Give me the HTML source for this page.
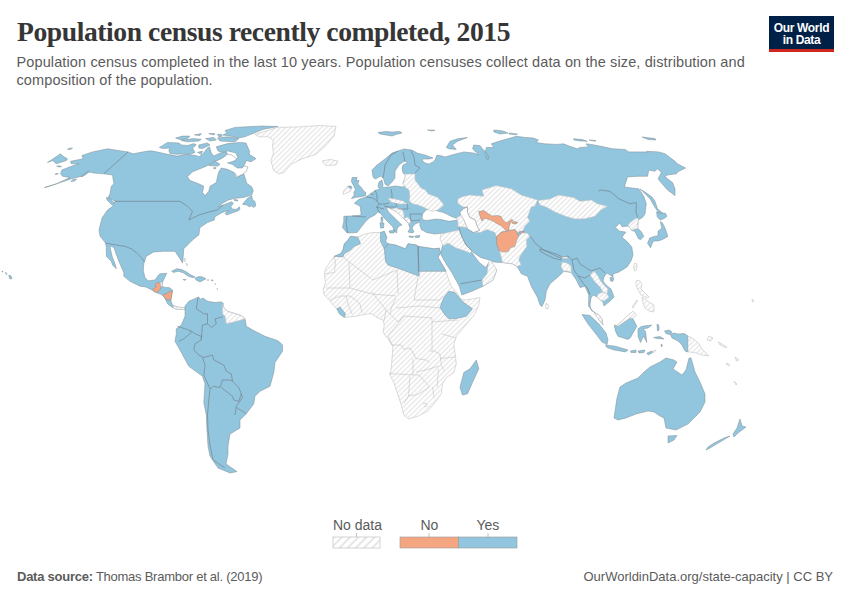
<!DOCTYPE html>
<html><head><meta charset="utf-8">
<style>
html,body{margin:0;padding:0;background:#fff;}
body{width:850px;height:600px;position:relative;overflow:hidden;font-family:"Liberation Sans",sans-serif;}
.t{position:absolute;white-space:nowrap;}
#title{left:17px;top:15.5px;font-family:"Liberation Serif",serif;font-weight:bold;font-size:27.6px;letter-spacing:-0.42px;color:#363636;}
#sub1,#sub2{left:16.5px;font-size:14.5px;letter-spacing:0.12px;color:#5b5b5b;}
#sub1{top:53.5px}
#sub2{top:71.5px}
#logo{position:absolute;left:769px;top:16px;width:65px;height:36px;background:#002147;}
#logo .bar{position:absolute;left:0;bottom:0;width:100%;height:3px;background:#ce261e;}
#logo .l{position:absolute;left:0;width:100%;text-align:center;color:#fff;font-size:12px;font-weight:bold;letter-spacing:-0.35px;}
#foot1{left:17px;top:569px;font-size:13px;letter-spacing:-0.25px;color:#5b5b5b;}
#foot2{right:17px;top:569px;font-size:13px;color:#5b5b5b;}
.lg{position:absolute;font-size:14px;color:#5b5b5b;}
svg{position:absolute;left:0;top:0;}
</style></head><body>
<div id="title" class="t">Population census recently completed, 2015</div>
<div id="sub1" class="t">Population census completed in the last 10 years. Population censuses collect data on the size, distribution and</div>
<div id="sub2" class="t">composition of the population.</div>
<div id="logo"><div class="l" style="top:5px">Our World</div><div class="l" style="top:17px">in Data</div><div class="bar"></div></div>

<svg width="850" height="600" viewBox="0 0 850 600">
<defs>
<pattern id="h" patternUnits="userSpaceOnUse" width="3.6" height="3.6" patternTransform="rotate(45)">
<rect width="3.6" height="3.6" fill="#ffffff"/>
<rect x="0" y="0" width="1.25" height="3.6" fill="#e6e6e6"/>
</pattern>
<pattern id="hl" patternUnits="userSpaceOnUse" width="5.8" height="5.8" patternTransform="rotate(45)">
<rect width="5.8" height="5.8" fill="#ffffff"/>
<rect x="0" y="0" width="2" height="5.8" fill="#e6e6e6"/>
</pattern>
</defs>
<g id="map" stroke-linejoin="round">
<path d="M44.4,187.5 L56.3,183.8 L70.0,177.5 L62.5,176.3 L60.6,173.8 L61.9,170.0 L71.3,166.3 L78.8,163.8 L71.3,163.8 L70.6,161.3 L80.0,159.4 L83.1,158.8 L81.9,155.6 L92.5,151.9 L107.5,148.8 L115.0,150.0 L128.1,151.9 L133.1,153.8 L146.3,151.3 L151.3,150.8 L156.3,151.8 L167.5,154.3 L177.5,156.1 L185.0,154.3 L196.3,155.5 L198.8,156.8 L202.5,154.3 L207.5,148.0 L209.4,146.8 L211.3,153.0 L213.8,156.1 L215.0,155.5 L220.0,153.0 L226.3,151.8 L227.5,154.3 L222.5,158.0 L217.5,160.5 L226.0,165.0 L233.8,172.5 L236.3,177.5 L243.8,173.8 L245.8,180.0 L246.7,183.3 L251.7,186.7 L253.3,190.8 L251.7,195.0 L243.3,197.5 L235.0,198.3 L228.3,200.0 L222.5,203.3 L218.3,206.7 L223.3,205.0 L231.7,201.7 L233.3,203.3 L230.8,206.7 L232.5,209.2 L236.7,209.2 L239.2,206.7 L240.0,209.2 L238.3,210.8 L233.3,212.5 L226.7,215.0 L225.0,213.3 L229.2,210.8 L224.2,211.7 L220.8,213.3 L215.0,216.7 L214.2,220.0 L207.5,222.5 L200.0,227.5 L198.8,235.0 L192.5,240.0 L183.8,248.8 L183.1,257.5 L182.5,263.1 L180.0,258.8 L175.0,251.3 L163.8,251.3 L153.8,251.9 L146.3,256.3 L143.8,263.8 L143.3,270.3 L145.0,277.8 L148.3,280.8 L155.0,280.0 L158.3,275.3 L160.0,273.7 L166.7,273.3 L164.2,278.7 L162.5,282.0 L162.0,286.2 L165.0,287.4 L170.0,287.8 L172.5,290.3 L171.7,295.3 L170.8,300.3 L172.5,305.3 L176.0,306.5 L180.0,307.5 L185.0,307.5 L185.0,309.5 L180.0,309.5 L176.0,309.0 L173.3,307.8 L171.7,307.0 L167.5,303.7 L165.8,300.3 L164.2,297.0 L161.7,294.5 L156.7,292.8 L152.5,290.3 L145.8,287.0 L140.0,286.2 L130.0,281.3 L123.8,276.3 L123.8,272.5 L118.8,261.3 L113.8,247.5 L111.3,246.3 L110.0,247.5 L112.5,257.5 L115.0,263.8 L116.3,268.8 L112.5,265.0 L111.3,261.3 L106.3,256.3 L106.3,247.5 L105.6,243.1 L100.0,236.0 L99.0,230.0 L102.0,218.0 L107.5,210.0 L112.5,206.3 L115.0,201.3 L108.1,197.5 L110.0,193.8 L111.3,186.3 L113.8,183.8 L112.5,175.0 L103.8,173.8 L93.8,173.1 L88.8,171.9 L81.3,176.3 L71.3,178.8 L58.8,183.1 L47.5,186.9 Z" fill="#92c5de" stroke="#7f8c92" stroke-width="0.5"/>
<path d="M187.5,176.8 L192.5,171.8 L205.0,166.8 L210.0,164.3 L215.0,161.1 L217.5,160.5 L222.5,158.0 L227.5,154.3 L232.0,155.0 L238.0,160.0 L240.0,165.0 L248.0,167.0 L246.0,171.8 L242.5,174.3 L237.5,176.8 L235.0,173.0 L227.5,169.3 L221.3,168.0 L218.8,171.8 L217.5,176.8 L216.3,182.5 L210.0,186.3 L208.8,191.3 L205.0,195.6 L202.5,192.5 L203.8,186.3 L198.8,183.8 L190.0,180.5 Z" fill="#fff" stroke="#7f8c92" stroke-width="0.5"/>
<path d="M208.8,165.5 L215.0,161.1 L220.0,164.3 L217.5,166.1 Z" fill="#92c5de" stroke="#7f8c92" stroke-width="0.5"/>
<path d="M213.0,168.0 L216.0,167.5 L215.5,169.0 Z" fill="#92c5de" stroke="#7f8c92" stroke-width="0.5"/>
<path d="M242.5,204.2 L247.5,198.3 L251.7,195.8 L252.5,199.2 L255.0,201.7 L255.8,205.8 L253.3,207.5 L251.7,205.8 L249.2,206.7 L246.7,205.0 Z" fill="#92c5de" stroke="#7f8c92" stroke-width="0.5"/>
<path d="M234.0,199.5 L238.0,200.0 L237.5,201.0 L234.5,200.5 Z" fill="#92c5de" stroke="#7f8c92" stroke-width="0.5"/>
<path d="M171.7,271.2 L176.7,268.7 L181.7,269.5 L186.7,272.0 L190.0,274.5 L195.0,276.9 L193.0,277.8 L188.3,276.2 L183.3,272.8 L178.3,271.2 L173.3,272.4 Z" fill="#92c5de" stroke="#7f8c92" stroke-width="0.5"/>
<path d="M195.0,278.1 L199.0,276.5 L202.5,276.9 L206.0,278.8 L200.0,281.9 L196.0,280.0 Z" fill="#92c5de" stroke="#7f8c92" stroke-width="0.5"/>
<path d="M183.0,279.5 L186.0,279.5 L185.0,280.5 Z" fill="#92c5de" stroke="#7f8c92" stroke-width="0.5"/>
<path d="M211.0,280.0 L213.0,280.0 L212.5,281.0 Z" fill="#92c5de" stroke="#7f8c92" stroke-width="0.5"/>
<path d="M184.0,258.0 L185.5,259.0 L185.0,262.0 L184.0,261.0 Z" fill="url(#h)" stroke="#c2c2c2" stroke-width="0.6"/>
<path d="M186.0,263.0 L187.5,264.0 L187.0,266.0 Z" fill="url(#h)" stroke="#c2c2c2" stroke-width="0.6"/>
<path d="M207.0,279.5 L209.0,279.5 L209.0,280.5 L207.0,280.5 Z" fill="url(#h)" stroke="#c2c2c2" stroke-width="0.6"/>
<path d="M215.0,283.0 L216.0,284.0 L215.5,285.0 Z" fill="url(#h)" stroke="#c2c2c2" stroke-width="0.6"/>
<path d="M217.0,288.0 L218.0,289.0 L217.0,290.0 Z" fill="url(#h)" stroke="#c2c2c2" stroke-width="0.6"/>
<path d="M152.5,289.5 L155.8,287.0 L155.0,284.5 L156.7,282.8 L160.0,282.8 L161.2,287.0 L160.0,289.5 L157.5,292.0 L154.2,292.0 Z" fill="#f4a582" stroke="#7f8c92" stroke-width="0.5"/>
<path d="M162.5,295.3 L167.5,292.8 L172.5,290.3 L171.7,295.3 L170.8,300.3 L166.7,299.5 L164.2,297.0 Z" fill="#f4a582" stroke="#7f8c92" stroke-width="0.5"/>
<path d="M173.3,306.0 L176.0,306.5 L180.0,307.5 L185.0,307.5 L185.0,309.5 L180.0,309.5 L176.0,309.0 L173.3,307.8 Z" fill="url(#h)" stroke="#c2c2c2" stroke-width="0.6"/>
<path d="M160.0,282.8 L162.0,282.0 L162.0,286.2 L161.2,287.0 Z" fill="url(#h)" stroke="#c2c2c2" stroke-width="0.6"/>
<path d="M128.1,151.9 L103.8,173.8" fill="none" stroke="#6e7b82" stroke-width="0.6"/>
<path d="M115.0,201.3 L180.0,201.3 L187.5,206.3 L192.5,211.3 L188.8,220.0 L198.8,215.0 L210.0,211.7 L217.5,210.0 L220.8,206.7 L223.3,205.0" fill="none" stroke="#6e7b82" stroke-width="0.6"/>
<path d="M105.6,243.1 L112.5,244.4 L125.0,246.3 L131.3,248.8 L136.3,252.5 L141.3,257.5 L144.4,261.9" fill="none" stroke="#6e7b82" stroke-width="0.6"/>
<path d="M254.8,134.3 L263.5,131.8 L277.3,127.4 L301.0,126.8 L320.0,125.5 L336.0,126.5 L334.0,136.0 L326.0,145.5 L316.0,154.3 L301.0,159.3 L291.0,164.3 L283.5,173.0 L278.5,173.6 L273.5,170.5 L271.0,160.5 L273.5,153.0 L272.3,145.5 L273.5,140.5 L268.5,136.8 L258.5,136.8 Z" fill="url(#h)" stroke="#c2c2c2" stroke-width="0.6"/>
<path d="M322.0,161.0 L330.0,159.5 L338.0,161.0 L336.0,165.0 L326.0,165.5 Z" fill="url(#h)" stroke="#c2c2c2" stroke-width="0.6"/>
<path d="M159.4,147.4 L167.5,142.4 L178.8,143.0 L181.3,144.9 L187.5,145.5 L193.8,143.6 L196.3,144.9 L192.5,148.0 L195.0,152.4 L190.0,154.3 L185.0,153.6 L177.5,154.3 L170.0,153.6 L168.8,150.5 L170.0,148.0 L162.5,148.6 Z" fill="#92c5de" stroke="#7f8c92" stroke-width="0.5"/>
<path d="M197.5,152.4 L202.5,151.1 L201.3,154.3 Z" fill="#92c5de" stroke="#7f8c92" stroke-width="0.5"/>
<path d="M198.8,144.9 L207.5,143.0 L210.0,144.9 L202.5,148.6 L198.8,148.0 Z" fill="#92c5de" stroke="#7f8c92" stroke-width="0.5"/>
<path d="M216.3,146.8 L227.5,143.6 L240.0,142.4 L246.0,143.0 L249.8,151.8 L249.1,154.3 L256.0,158.6 L251.0,161.8 L246.0,160.5 L244.8,164.3 L242.3,168.0 L237.3,168.0 L232.3,164.3 L227.5,163.0 L234.0,161.0 L238.0,158.0 L236.0,153.0 L228.0,151.0 L222.0,152.0 L218.0,151.0 Z" fill="#92c5de" stroke="#7f8c92" stroke-width="0.5"/>
<path d="M175.6,138.0 L182.5,136.1 L190.0,136.1 L187.5,138.6 L181.3,139.9 Z" fill="#92c5de" stroke="#7f8c92" stroke-width="0.5"/>
<path d="M181.3,140.5 L192.5,138.6 L201.3,139.3 L198.8,141.1 L187.5,141.8 Z" fill="#92c5de" stroke="#7f8c92" stroke-width="0.5"/>
<path d="M194.4,134.9 L201.3,133.6 L200.0,135.5 Z" fill="#92c5de" stroke="#7f8c92" stroke-width="0.5"/>
<path d="M208.8,133.6 L215.0,133.6 L213.8,134.9 Z" fill="#92c5de" stroke="#7f8c92" stroke-width="0.5"/>
<path d="M205.6,138.6 L213.8,137.4 L216.3,139.9 L210.0,141.1 Z" fill="#92c5de" stroke="#7f8c92" stroke-width="0.5"/>
<path d="M217.5,134.3 L221.3,134.3 L222.5,136.1 L218.8,136.8 Z" fill="#92c5de" stroke="#7f8c92" stroke-width="0.5"/>
<path d="M217.5,138.0 L227.5,136.8 L238.8,138.6 L235.0,141.8 L220.0,141.1 Z" fill="#92c5de" stroke="#7f8c92" stroke-width="0.5"/>
<path d="M225.0,130.5 L235.0,127.4 L246.0,126.8 L262.0,126.0 L278.0,126.5 L263.5,129.3 L251.0,134.3 L244.8,136.8 L238.5,138.0 L230.0,136.0 L223.0,135.0 L226.9,133.0 Z" fill="#92c5de" stroke="#7f8c92" stroke-width="0.5"/>
<path d="M106.3,197.5 L110.0,198.5 L114.0,203.0 L112.0,205.0 L107.0,200.0 Z" fill="#92c5de" stroke="#7f8c92" stroke-width="0.5"/>
<path d="M47.5,162.5 L60.6,153.8 L63.1,156.3 L67.5,158.8 L66.3,160.6 L56.3,163.8 L52.5,160.6 Z" fill="#92c5de" stroke="#7f8c92" stroke-width="0.5"/>
<path d="M67.5,149.3 L70.0,148.0 L72.5,148.3 L70.0,149.6 Z" fill="#92c5de" stroke="#7f8c92" stroke-width="0.5"/>
<path d="M56.7,166.2 L59.0,165.8 L61.7,166.6 L59.0,167.0 Z" fill="#92c5de" stroke="#7f8c92" stroke-width="0.5"/>
<path d="M55.0,174.2 L57.0,173.3 L58.3,173.8 L56.0,174.6 Z" fill="#92c5de" stroke="#7f8c92" stroke-width="0.5"/>
<path d="M70.8,181.5 L73.0,179.5 L76.7,179.0 L74.5,181.0 Z" fill="#92c5de" stroke="#7f8c92" stroke-width="0.5"/>
<path d="M81.0,176.2 L84.0,174.0 L88.5,171.0 L89.2,171.5 L86.0,174.5 L82.0,176.8 Z" fill="#92c5de" stroke="#7f8c92" stroke-width="0.5"/>
<path d="M9.0,275.0 L11.0,276.0 L12.0,278.5 L10.0,279.0 L9.0,277.0 Z" fill="#92c5de" stroke="#7f8c92" stroke-width="0.5"/>
<path d="M2.0,271.0 L3.0,271.5 L3.0,272.0 L2.0,272.0 Z" fill="#92c5de" stroke="#7f8c92" stroke-width="0.5"/>
<path d="M5.0,272.5 L7.0,273.5 L6.5,274.5 Z" fill="#92c5de" stroke="#7f8c92" stroke-width="0.5"/>
<path d="M185.0,306.3 L188.8,301.3 L198.8,296.9 L200.0,299.4 L203.1,298.1 L207.5,301.3 L215.0,302.5 L221.3,301.9 L223.1,303.1 L223.8,307.5 L227.5,311.3 L231.3,312.5 L237.5,314.4 L242.5,316.3 L245.0,318.8 L246.3,326.3 L255.0,331.3 L265.0,336.3 L276.0,340.0 L278.8,341.3 L282.5,345.0 L282.5,351.3 L275.0,362.5 L273.8,372.5 L270.0,386.3 L260.0,391.3 L255.0,396.3 L253.8,403.8 L246.3,413.8 L240.0,420.0 L240.0,428.0 L230.0,434.0 L228.0,446.0 L228.0,454.0 L226.0,464.0 L237.0,471.6 L230.0,473.0 L218.0,468.0 L210.0,456.0 L208.0,446.0 L207.0,430.0 L206.3,415.0 L203.8,402.5 L205.0,383.8 L202.5,376.3 L188.8,366.3 L180.0,350.0 L175.0,341.3 L176.3,333.8 L176.3,328.8 L181.3,325.0 L185.0,316.3 Z" fill="#92c5de" stroke="#7f8c92" stroke-width="0.5"/>
<path d="M223.1,303.1 L223.8,307.5 L227.5,311.3 L231.3,312.5 L237.5,314.4 L242.5,316.3 L245.0,318.8 L241.3,320.0 L233.8,321.9 L226.3,323.8 L225.0,316.3 L222.5,313.8 L222.5,306.0 Z" fill="url(#h)" stroke="#c2c2c2" stroke-width="0.6"/>
<path d="M196.3,308.8 L203.8,313.8 L207.5,313.8 L207.5,323.8 L211.3,327.5 L216.3,323.8 L215.0,318.8 L222.5,316.9" fill="none" stroke="#6e7b82" stroke-width="0.6"/>
<path d="M198.0,297.5 L196.3,308.8" fill="none" stroke="#6e7b82" stroke-width="0.6"/>
<path d="M207.5,323.8 L202.5,325.0 L201.3,338.8" fill="none" stroke="#6e7b82" stroke-width="0.6"/>
<path d="M177.5,326.3 L188.8,330.0 L191.3,332.5 L183.8,338.8 L178.8,341.3" fill="none" stroke="#6e7b82" stroke-width="0.6"/>
<path d="M190.0,330.0 L195.0,333.8 L201.3,336.3 L201.3,340.0 L195.0,343.8 L193.8,350.0 L198.8,355.0 L203.8,357.5 L212.5,355.0 L213.8,360.0 L223.8,365.0 L226.3,371.3 L231.3,373.8 L232.5,381.3 L238.8,387.5 L241.3,393.8 L242.5,397.5 L236.3,406.3 L235.0,415.0" fill="none" stroke="#6e7b82" stroke-width="0.6"/>
<path d="M202.5,357.5 L205.0,365.0 L203.8,375.0 L210.0,388.8 L213.8,386.3 L220.0,387.5 L222.5,380.0 L230.0,380.0 L232.5,381.3" fill="none" stroke="#6e7b82" stroke-width="0.6"/>
<path d="M221.3,387.5 L232.5,396.3 L233.8,400.0 L238.8,401.3 L241.3,393.8" fill="none" stroke="#6e7b82" stroke-width="0.6"/>
<path d="M236.3,407.5 L246.3,413.8" fill="none" stroke="#6e7b82" stroke-width="0.6"/>
<path d="M210.0,388.8 L208.8,400.0 L207.5,415.0 L208.0,430.0 L210.0,445.0 L213.0,460.0 L225.0,468.0" fill="none" stroke="#6e7b82" stroke-width="0.6"/>
<path d="M334.3,256.3 L340.5,253.8 L343.0,250.0 L344.3,243.8 L348.0,240.0 L350.5,236.3 L355.5,236.9 L359.3,236.3 L365.5,233.8 L373.0,232.5 L380.5,232.5 L384.3,231.3 L386.8,237.5 L385.5,241.3 L388.0,243.8 L395.5,245.0 L405.5,248.8 L408.0,243.8 L416.8,245.0 L418.0,246.3 L425.5,247.5 L434.3,248.8 L439.3,248.1 L440.5,252.5 L438.0,257.5 L445.5,270.0 L448.8,280.0 L451.3,286.3 L458.8,295.0 L460.0,298.8 L465.0,300.0 L472.5,298.8 L480.0,297.5 L478.8,305.0 L475.0,313.8 L470.0,320.0 L462.5,328.8 L456.3,336.3 L453.8,345.0 L455.0,352.5 L456.3,363.8 L453.8,372.5 L446.3,377.5 L442.5,383.8 L441.3,393.8 L435.0,402.5 L427.5,411.3 L417.5,416.3 L408.8,418.8 L403.8,415.0 L401.3,405.0 L398.8,397.5 L393.8,382.5 L390.0,375.0 L391.3,367.5 L392.5,352.5 L393.0,345.0 L391.8,345.0 L388.0,338.8 L383.0,332.5 L384.3,325.0 L383.0,320.0 L376.8,317.5 L371.8,313.8 L368.0,313.8 L355.5,316.3 L344.3,317.5 L336.8,308.8 L333.0,305.0 L329.3,300.0 L324.3,295.0 L323.0,290.0 L325.5,282.5 L324.3,273.8 L325.5,268.8 L330.5,261.3 Z" fill="url(#h)" stroke="#c2c2c2" stroke-width="0.6"/>
<path d="M344.0,258.0 L373.0,280.0 L397.0,270.0" fill="none" stroke="#c2c2c2" stroke-width="0.6"/>
<path d="M397.0,270.0 L398.0,294.0" fill="none" stroke="#c2c2c2" stroke-width="0.6"/>
<path d="M418.0,277.0 L414.0,300.0" fill="none" stroke="#c2c2c2" stroke-width="0.6"/>
<path d="M334.3,256.3 L335.5,262.5 L334.3,272.5 L325.0,273.8" fill="none" stroke="#c2c2c2" stroke-width="0.6"/>
<path d="M349.0,263.0 L350.0,288.0" fill="none" stroke="#c2c2c2" stroke-width="0.6"/>
<path d="M326.0,288.0 L350.0,288.0 L372.0,294.0 L396.0,296.0" fill="none" stroke="#c2c2c2" stroke-width="0.6"/>
<path d="M330.0,300.0 L340.0,296.0 L350.0,296.0 L356.0,300.0 L360.0,304.0 L362.0,313.0" fill="none" stroke="#c2c2c2" stroke-width="0.6"/>
<path d="M346.0,296.0 L348.0,304.0 L352.0,314.0" fill="none" stroke="#c2c2c2" stroke-width="0.6"/>
<path d="M372.0,292.0 L386.0,310.0 L384.0,321.0" fill="none" stroke="#c2c2c2" stroke-width="0.6"/>
<path d="M396.0,298.0 L392.0,306.0 L390.0,314.0" fill="none" stroke="#c2c2c2" stroke-width="0.6"/>
<path d="M396.0,308.0 L420.0,306.0 L440.0,308.0" fill="none" stroke="#c2c2c2" stroke-width="0.6"/>
<path d="M414.0,300.0 L440.0,300.0 L443.0,296.0" fill="none" stroke="#c2c2c2" stroke-width="0.6"/>
<path d="M386.0,310.0 L398.0,322.0 L404.0,316.0 L432.0,318.0" fill="none" stroke="#c2c2c2" stroke-width="0.6"/>
<path d="M404.0,316.0 L396.0,326.0 L388.0,336.0 L392.0,345.0 L401.0,345.0 L404.0,349.5 L410.0,348.0 L413.0,352.5 L416.0,358.5 L426.5,360.0 L429.5,363.0" fill="none" stroke="#c2c2c2" stroke-width="0.6"/>
<path d="M432.0,318.0 L432.0,350.0" fill="none" stroke="#c2c2c2" stroke-width="0.6"/>
<path d="M432.0,322.0 L458.0,320.0" fill="none" stroke="#c2c2c2" stroke-width="0.6"/>
<path d="M442.0,334.0 L456.0,338.0" fill="none" stroke="#c2c2c2" stroke-width="0.6"/>
<path d="M429.5,351.0 L434.0,351.0 L440.0,354.0 L441.5,366.0 L444.5,370.5" fill="none" stroke="#c2c2c2" stroke-width="0.6"/>
<path d="M440.0,358.5 L455.0,357.0" fill="none" stroke="#c2c2c2" stroke-width="0.6"/>
<path d="M413.0,358.5 L413.0,375.0" fill="none" stroke="#c2c2c2" stroke-width="0.6"/>
<path d="M389.0,373.5 L414.5,375.0 L419.0,375.0 L429.5,387.0 L417.5,394.5 L408.5,396.0" fill="none" stroke="#c2c2c2" stroke-width="0.6"/>
<path d="M410.0,376.5 L408.5,396.0 L404.0,403.5" fill="none" stroke="#c2c2c2" stroke-width="0.6"/>
<path d="M416.0,372.0 L429.5,369.0 L438.5,366.0" fill="none" stroke="#c2c2c2" stroke-width="0.6"/>
<path d="M438.5,369.0 L437.0,387.0" fill="none" stroke="#c2c2c2" stroke-width="0.6"/>
<path d="M432.5,387.0 L434.0,397.5" fill="none" stroke="#c2c2c2" stroke-width="0.6"/>
<path d="M423.0,404.0 L426.0,403.0 L427.0,406.0 L424.0,407.0" fill="none" stroke="#c2c2c2" stroke-width="0.6"/>
<path d="M334.3,256.3 L340.5,253.8 L343.0,250.0 L344.3,243.8 L348.0,240.0 L350.5,236.3 L355.5,236.9 L358.0,237.5 L360.5,243.8 L354.3,246.3 L350.5,250.0 L344.3,253.8 L343.0,256.9 Z" fill="#92c5de" stroke="#7f8c92" stroke-width="0.5"/>
<path d="M380.5,232.5 L384.3,231.3 L386.8,237.5 L385.5,241.3 L388.0,243.8 L384.3,248.8 L380.5,241.3 Z" fill="#92c5de" stroke="#7f8c92" stroke-width="0.5"/>
<path d="M388.0,243.8 L395.5,245.0 L405.5,248.8 L408.0,243.8 L416.8,245.0 L418.0,246.3 L419.3,276.3 L399.3,268.8 L388.0,265.0 L385.5,261.3 L384.3,248.8 Z" fill="#92c5de" stroke="#7f8c92" stroke-width="0.5"/>
<path d="M418.0,246.3 L425.5,247.5 L434.3,248.8 L439.3,248.1 L440.5,252.5 L438.0,257.5 L445.5,270.0 L446.0,271.3 L418.5,271.3 Z" fill="#92c5de" stroke="#7f8c92" stroke-width="0.5"/>
<path d="M440.0,307.5 L443.8,297.5 L448.8,291.3 L455.0,292.5 L460.0,298.8 L463.8,302.5 L472.5,308.8 L466.3,316.3 L455.0,318.8 L448.8,318.8 L445.0,315.0 Z" fill="#92c5de" stroke="#7f8c92" stroke-width="0.5"/>
<path d="M336.8,308.8 L339.9,306.9 L345.5,313.8 L344.3,317.5 L339.3,313.8 Z" fill="#92c5de" stroke="#7f8c92" stroke-width="0.5"/>
<path d="M476.3,360.0 L478.8,368.8 L472.5,382.5 L467.5,393.8 L462.5,395.0 L460.0,387.5 L463.8,372.5 L470.0,368.8 Z" fill="#92c5de" stroke="#7f8c92" stroke-width="0.5"/>
<path d="M418.2,246.3 L418.8,271.3" fill="none" stroke="#6e7b82" stroke-width="0.6"/>
<path d="M342.5,227.5 L343.8,221.3 L343.8,216.3 L350.0,216.0 L352.0,216.0 L361.0,215.0 L361.0,213.0 L360.0,206.0 L354.3,203.2 L359.0,199.2 L364.8,197.4 L370.7,193.9 L374.2,191.0 L380.0,188.8 L378.0,187.0 L379.0,182.0 L382.0,180.0 L383.0,185.0 L382.5,187.5 L389.0,187.0 L395.0,186.0 L403.0,187.0 L405.0,186.0 L403.0,183.0 L405.0,178.0 L406.0,175.0 L403.0,173.0 L402.0,168.0 L403.0,165.0 L407.0,163.0 L406.0,161.0 L403.0,162.0 L399.0,165.0 L395.0,171.0 L395.0,178.0 L392.0,182.0 L388.0,186.0 L385.0,184.0 L384.0,180.0 L383.0,178.0 L381.0,176.0 L375.0,179.0 L373.0,177.0 L372.0,170.0 L377.0,165.0 L385.0,159.0 L392.0,153.0 L398.0,151.0 L404.0,149.0 L412.0,150.0 L417.0,153.0 L425.0,155.0 L433.0,158.0 L429.0,159.0 L423.0,159.0 L422.0,160.0 L425.0,163.0 L429.0,164.0 L433.0,162.0 L435.0,160.0 L437.0,155.0 L442.0,156.0 L445.0,157.0 L453.8,154.4 L463.8,151.9 L473.8,153.1 L478.8,155.0 L472.5,148.8 L473.8,145.0 L480.0,145.6 L482.5,148.8 L487.5,153.8 L488.8,158.8 L486.9,159.4 L485.0,153.8 L486.3,147.5 L493.8,147.5 L491.3,143.8 L498.8,141.3 L507.5,138.8 L516.3,136.3 L526.0,137.5 L533.5,138.1 L538.5,140.0 L536.0,142.5 L544.8,143.8 L557.3,144.4 L563.5,143.8 L569.8,146.3 L577.3,148.8 L579.8,147.5 L588.5,146.9 L586.0,143.8 L591.0,144.4 L601.0,146.3 L612.5,148.8 L625.0,149.4 L628.8,151.9 L645.0,151.9 L647.5,153.1 L646.3,151.3 L658.8,151.9 L665.0,153.8 L675.0,161.3 L677.5,163.8 L685.6,168.1 L678.8,171.3 L676.3,173.8 L667.5,175.0 L665.0,176.3 L667.5,178.8 L672.5,182.5 L675.0,188.8 L675.0,195.6 L667.5,190.0 L660.0,181.3 L658.1,178.8 L661.3,172.5 L657.5,168.8 L655.0,171.3 L648.8,170.0 L647.5,176.3 L637.5,176.3 L627.5,176.9 L624.4,186.9 L632.5,188.1 L638.8,188.8 L643.8,196.3 L646.3,203.8 L645.0,213.8 L643.0,217.0 L638.5,220.0 L637.8,223.0 L637.8,228.3 L641.5,232.0 L643.8,236.5 L640.8,239.5 L638.5,238.8 L636.3,234.3 L634.8,231.3 L631.8,230.5 L630.3,228.3 L628.0,226.0 L622.0,226.8 L619.8,223.0 L615.3,227.5 L619.8,231.3 L625.8,232.0 L622.0,237.3 L627.3,241.8 L631.8,247.0 L633.0,255.0 L631.0,261.0 L627.0,267.0 L619.0,272.0 L613.0,274.0 L613.0,277.0 L607.0,273.0 L604.0,277.0 L603.0,281.0 L606.0,285.0 L611.0,289.0 L614.0,297.0 L610.0,301.0 L604.0,306.0 L603.0,302.0 L597.0,297.0 L593.0,295.0 L591.0,298.0 L590.0,305.0 L591.0,310.0 L597.0,314.0 L598.0,313.8 L601.8,318.8 L603.0,325.0 L599.3,320.0 L594.3,312.5 L588.6,306.3 L588.8,295.0 L585.0,286.3 L580.0,287.5 L576.3,280.0 L571.3,272.5 L563.8,271.3 L558.8,276.3 L550.0,283.8 L546.3,291.3 L545.0,300.0 L542.0,306.5 L540.0,305.0 L537.5,297.5 L531.3,286.3 L527.5,276.3 L521.3,273.8 L520.0,271.3 L516.9,266.3 L512.5,263.8 L506.0,263.0 L502.5,262.5 L500.5,262.5 L494.0,262.0 L489.3,260.0 L480.5,257.5 L471.8,251.3 L471.8,252.5 L475.5,257.5 L479.3,262.5 L485.5,267.5 L489.3,262.0 L496.8,270.0 L493.0,280.0 L483.0,286.3 L471.8,291.3 L461.8,295.0 L459.3,286.3 L451.8,272.5 L446.8,265.0 L440.5,253.8 L441.8,248.8 L443.0,244.0 L444.0,239.0 L446.0,234.5 L441.5,233.3 L434.8,234.0 L426.5,232.5 L421.3,229.5 L419.8,225.0 L420.0,222.0 L415.0,224.0 L412.0,228.0 L414.0,232.0 L412.0,233.0 L408.0,232.0 L410.0,228.3 L408.3,223.3 L403.3,218.3 L396.7,211.7 L390.0,208.3 L386.0,207.0 L388.3,211.7 L395.0,218.3 L400.0,223.3 L402.0,225.0 L399.0,226.0 L397.0,229.0 L396.7,233.0 L394.0,231.0 L393.0,227.0 L386.0,220.0 L380.0,213.0 L378.0,211.7 L375.0,215.0 L370.0,217.5 L366.0,221.0 L362.0,226.0 L357.0,232.5 L347.0,233.0 Z" fill="#92c5de" stroke="#7f8c92" stroke-width="0.5"/>
<path d="M422.0,217.5 L422.8,213.8 L425.8,210.0 L431.0,208.5 L434.8,210.0 L439.3,211.5 L443.0,212.3 L447.5,214.5 L452.0,216.8 L456.5,218.3 L458.8,219.8 L455.0,220.5 L449.0,221.3 L442.3,219.8 L436.3,219.0 L431.0,219.8 L426.5,220.5 L422.8,219.8 Z" fill="#fff" stroke="#7f8c92" stroke-width="0.5"/>
<path d="M460.0,212.3 L463.8,208.5 L467.5,207.0 L467.5,212.3 L469.8,217.5 L475.0,219.8 L477.3,226.5 L479.5,230.3 L473.5,232.5 L467.5,228.8 L466.0,225.0 L463.8,219.8 L460.8,215.3 Z" fill="#fff" stroke="#7f8c92" stroke-width="0.5"/>
<path d="M352.0,177.6 L357.2,177.6 L356.0,180.5 L359.0,180.5 L357.8,184.0 L361.3,187.5 L363.7,191.0 L366.0,192.7 L365.4,195.7 L360.2,196.8 L355.5,197.4 L351.4,198.6 L354.3,195.0 L353.7,192.2 L355.5,189.8 L353.7,185.7 L351.4,181.7 Z" fill="#92c5de" stroke="#7f8c92" stroke-width="0.5"/>
<path d="M343.8,190.4 L348.0,186.3 L352.0,187.5 L350.2,191.6 L343.2,194.5 Z" fill="url(#h)" stroke="#c2c2c2" stroke-width="0.6"/>
<path d="M348.0,186.3 L351.0,186.0 L352.0,187.5 L350.0,188.7 Z" fill="#92c5de" stroke="#7f8c92" stroke-width="0.5"/>
<path d="M378.0,132.5 L386.0,131.5 L392.0,132.0 L400.0,131.5 L402.0,133.0 L396.0,134.5 L392.0,136.0 L386.0,135.0 L380.0,134.0 Z" fill="#92c5de" stroke="#7f8c92" stroke-width="0.5"/>
<path d="M427.5,130.0 L435.0,130.2 L432.0,131.0 Z" fill="#92c5de" stroke="#7f8c92" stroke-width="0.5"/>
<path d="M446.3,147.5 L450.0,141.3 L457.5,138.8 L467.5,137.5 L457.5,141.3 L452.5,145.0 L456.3,149.4 L448.8,148.8 Z" fill="#92c5de" stroke="#7f8c92" stroke-width="0.5"/>
<path d="M493.8,130.0 L503.0,131.0 L508.0,133.0 L500.0,134.0 L494.0,132.0 Z" fill="#92c5de" stroke="#7f8c92" stroke-width="0.5"/>
<path d="M509.0,133.0 L517.5,134.0 L516.0,134.8 L509.0,134.0 Z" fill="#92c5de" stroke="#7f8c92" stroke-width="0.5"/>
<path d="M573.5,138.8 L582.0,139.5 L587.3,141.3 L580.0,141.0 L574.0,140.0 Z" fill="#92c5de" stroke="#7f8c92" stroke-width="0.5"/>
<path d="M589.0,140.0 L596.0,140.5 L595.0,141.3 Z" fill="#92c5de" stroke="#7f8c92" stroke-width="0.5"/>
<path d="M642.0,137.0 L655.0,138.5 L656.0,140.0 L648.0,139.5 Z" fill="#92c5de" stroke="#7f8c92" stroke-width="0.5"/>
<path d="M640.0,189.0 L645.0,192.0 L652.0,197.0 L655.0,201.3 L657.5,208.8 L665.0,215.0 L659.0,213.0 L655.0,207.5 L650.0,198.8 L641.3,190.0 Z" fill="#92c5de" stroke="#7f8c92" stroke-width="0.5"/>
<path d="M647.5,243.3 L649.8,238.0 L654.0,236.5 L658.0,235.8 L658.0,231.3 L661.8,228.3 L660.3,221.5 L662.5,223.0 L665.0,228.0 L667.0,233.5 L667.8,236.5 L662.5,239.5 L658.0,241.0 L653.5,241.0 L652.0,244.0 L650.5,247.8 Z" fill="#92c5de" stroke="#7f8c92" stroke-width="0.5"/>
<path d="M657.3,217.0 L656.5,211.8 L660.0,213.0 L665.5,213.3 L667.0,216.3 L664.0,218.5 L660.3,220.0 Z" fill="#92c5de" stroke="#7f8c92" stroke-width="0.5"/>
<path d="M381.0,217.0 L383.0,217.5 L382.5,222.0 L381.0,221.0 Z" fill="#92c5de" stroke="#7f8c92" stroke-width="0.5"/>
<path d="M380.0,222.5 L384.0,223.0 L383.5,228.0 L380.5,228.0 Z" fill="#92c5de" stroke="#7f8c92" stroke-width="0.5"/>
<path d="M389.0,231.0 L395.0,230.0 L394.0,233.0 L390.0,233.0 Z" fill="#92c5de" stroke="#7f8c92" stroke-width="0.5"/>
<path d="M415.0,236.0 L420.0,235.5 L419.0,237.5 L415.5,237.5 Z" fill="#92c5de" stroke="#7f8c92" stroke-width="0.5"/>
<path d="M409.0,236.0 L414.0,236.5 L413.0,237.5 L409.0,237.0 Z" fill="#92c5de" stroke="#7f8c92" stroke-width="0.5"/>
<path d="M546.0,303.0 L548.5,305.0 L548.0,309.0 L545.5,308.5 Z" fill="url(#h)" stroke="#c2c2c2" stroke-width="0.6"/>
<path d="M610.0,277.5 L613.8,277.8 L613.0,281.3 L610.5,281.0 Z" fill="#92c5de" stroke="#7f8c92" stroke-width="0.5"/>
<path d="M634.5,263.0 L637.0,264.0 L636.5,270.0 L634.5,271.0 L633.5,267.0 Z" fill="url(#h)" stroke="#c2c2c2" stroke-width="0.6"/>
<path d="M405.0,174.0 L415.0,174.0 L415.0,180.0 L421.0,188.0 L425.5,190.0 L428.0,193.8 L438.0,197.5 L444.0,205.0 L438.0,210.0 L431.8,211.3 L427.0,209.0 L423.0,207.0 L418.0,205.0 L413.0,204.0 L409.0,201.0 L410.0,197.0 L409.0,190.0 L405.0,187.0 L403.0,183.0 L405.0,178.0 Z" fill="url(#h)" stroke="#c2c2c2" stroke-width="0.6"/>
<path d="M388.0,198.0 L395.0,199.0 L403.0,201.0 L407.0,204.0 L399.0,204.0 L391.0,202.0 Z" fill="url(#h)" stroke="#c2c2c2" stroke-width="0.6"/>
<path d="M391.0,209.0 L396.0,208.0 L402.0,209.0 L404.0,214.0 L404.0,218.5 L401.0,216.5 L396.7,211.7 Z" fill="url(#h)" stroke="#c2c2c2" stroke-width="0.6"/>
<path d="M404.0,218.5 L408.0,217.0 L411.0,221.0 L409.5,224.0 L408.3,223.3 L406.0,220.5 Z" fill="url(#h)" stroke="#c2c2c2" stroke-width="0.6"/>
<path d="M457.8,198.8 L463.0,196.5 L469.8,195.0 L483.8,196.3 L481.9,190.0 L496.3,185.6 L511.3,188.8 L521.3,195.0 L537.5,200.0 L535.0,206.3 L531.3,206.9 L528.8,213.8 L527.5,217.5 L530.0,221.0 L525.0,226.0 L522.5,231.3 L518.0,232.5 L515.0,230.0 L510.4,230.3 L501.2,232.1 L496.6,236.7 L495.0,232.5 L487.0,229.5 L480.3,232.5 L473.5,232.5 L479.5,230.3 L477.3,226.5 L475.0,219.8 L469.8,217.5 L467.5,212.3 L467.5,207.0 L463.0,207.0 L457.8,203.3 Z" fill="url(#h)" stroke="#c2c2c2" stroke-width="0.6"/>
<path d="M460.0,212.3 L463.8,208.5 L467.5,207.0 L467.5,212.3 L469.8,217.5 L475.0,219.8 L477.3,226.5 L479.5,230.3 L473.5,232.5 L467.5,228.8 L466.0,225.0 L463.8,219.8 L460.8,215.3 Z" fill="#fff" stroke="#7f8c92" stroke-width="0.5"/>
<path d="M478.7,211.5 L483.8,210.6 L488.3,213.8 L492.0,216.0 L497.5,215.6 L501.2,216.5 L503.0,220.2 L506.7,222.9 L509.4,221.1 L511.7,219.3 L513.0,220.2 L510.4,222.9 L509.4,225.7 L508.5,230.3 L506.7,231.2 L503.9,228.4 L501.2,225.7 L497.5,223.9 L492.9,221.1 L488.3,219.3 L484.7,218.3 L481.9,221.1 L480.1,216.5 Z" fill="#f4a582" stroke="#7f8c92" stroke-width="0.5"/>
<path d="M512.2,222.0 L515.0,221.5 L517.7,222.5 L516.0,223.9 L512.5,223.5 Z" fill="#f4a582" stroke="#7f8c92" stroke-width="0.5"/>
<path d="M519.5,231.5 L524.1,231.2 L523.5,233.0 L519.5,233.0 Z" fill="#f4a582" stroke="#7f8c92" stroke-width="0.5"/>
<path d="M496.6,236.7 L501.2,232.1 L506.7,231.2 L510.4,230.3 L515.0,229.4 L517.7,234.0 L518.6,236.7 L516.8,240.4 L515.0,246.8 L510.4,247.7 L508.5,251.4 L504.9,252.3 L499.4,251.4 L496.6,244.0 L496.6,239.4 Z" fill="#f4a582" stroke="#7f8c92" stroke-width="0.5"/>
<path d="M441.0,234.0 L450.0,232.0 L459.0,230.0 L462.0,237.0 L466.0,245.0 L472.0,251.0 L470.0,253.0 L465.0,251.0 L456.0,248.0 L448.0,243.0 L443.0,246.0 L440.0,239.0 Z" fill="url(#h)" stroke="#c2c2c2" stroke-width="0.6"/>
<path d="M456.5,218.3 L460.8,215.3 L463.8,219.8 L466.0,225.0 L467.5,228.8 L466.0,227.3 L457.8,226.5 L458.0,222.0 Z" fill="url(#h)" stroke="#c2c2c2" stroke-width="0.6"/>
<path d="M530.0,236.3 L526.3,240.0 L526.9,246.3 L520.0,256.3 L518.8,260.0 L521.3,265.0 L516.9,266.3 L512.5,263.8 L502.5,262.5 L501.0,256.0 L499.4,251.4 L504.9,252.3 L508.5,251.4 L510.4,247.7 L515.0,246.8 L516.8,240.4 L518.6,236.7 L522.0,233.0 L527.0,233.0 Z" fill="url(#h)" stroke="#c2c2c2" stroke-width="0.6"/>
<path d="M540.0,248.8 L548.0,252.0 L556.0,256.0 L561.0,258.0 L561.0,260.0 L553.0,258.0 L545.0,254.0 L540.0,251.0 L540.0,248.8" fill="none" stroke="#6e7b82" stroke-width="0.6"/>
<path d="M562.0,256.0 L567.0,256.5 L567.5,258.5 L562.5,258.5 Z" fill="url(#h)" stroke="#c2c2c2" stroke-width="0.6"/>
<path d="M489.3,260.0 L492.0,262.0 L496.8,270.0 L493.0,280.0 L483.0,286.3 L482.0,280.0 L487.0,274.0 L488.0,266.0 Z" fill="url(#h)" stroke="#c2c2c2" stroke-width="0.6"/>
<path d="M538.0,200.5 L550.0,199.0 L558.5,195.0 L573.5,197.5 L580.0,201.3 L591.3,200.0 L597.5,203.8 L607.5,206.3 L601.0,210.0 L595.0,216.3 L585.0,218.8 L575.0,219.0 L566.0,216.5 L555.0,212.0 L546.0,207.0 L540.0,205.0 Z" fill="url(#h)" stroke="#c2c2c2" stroke-width="0.6"/>
<path d="M637.8,217.8 L635.5,218.5 L629.5,223.0 L628.0,226.0 L630.3,228.3 L631.8,230.5 L634.8,229.0 L637.8,228.3 L637.8,223.0 L638.5,220.0 Z" fill="url(#h)" stroke="#c2c2c2" stroke-width="0.6"/>
<path d="M562.0,262.0 L567.0,263.0 L571.0,266.0 L571.3,272.5 L567.0,271.0 L563.8,271.3 L561.0,267.0 Z" fill="url(#h)" stroke="#c2c2c2" stroke-width="0.6"/>
<path d="M590.0,275.0 L594.0,271.0 L598.0,276.0 L600.0,280.0 L604.0,285.0 L608.0,289.0 L607.0,294.0 L603.0,292.0 L600.0,287.0 L597.0,284.0 L595.0,282.0 Z" fill="url(#h)" stroke="#c2c2c2" stroke-width="0.6"/>
<path d="M598.0,294.0 L603.0,292.0 L607.0,294.0 L609.0,297.0 L604.0,301.0 L600.0,300.0 L597.0,297.0 Z" fill="url(#h)" stroke="#c2c2c2" stroke-width="0.6"/>
<path d="M594.3,313.8 L598.0,313.8 L601.8,318.8 L603.0,325.0 L599.3,320.0 Z" fill="url(#h)" stroke="#c2c2c2" stroke-width="0.6"/>
<path d="M398.0,151.0 L391.0,155.0 L385.0,165.0 L384.0,173.0 L383.0,178.0" fill="none" stroke="#6e7b82" stroke-width="0.6"/>
<path d="M403.0,152.0 L404.0,157.0 L405.0,161.0" fill="none" stroke="#6e7b82" stroke-width="0.6"/>
<path d="M411.0,151.0 L414.0,157.0 L415.0,165.0 L420.0,168.0 L415.0,173.0" fill="none" stroke="#6e7b82" stroke-width="0.6"/>
<path d="M352.0,216.0 L366.0,217.0" fill="none" stroke="#6e7b82" stroke-width="0.6"/>
<path d="M347.0,216.5 L346.0,222.0 L347.5,232.5" fill="none" stroke="#6e7b82" stroke-width="0.6"/>
<path d="M366.0,197.0 L373.0,198.0 L377.0,201.0 L379.0,204.0 L377.0,207.0 L378.0,210.0 L380.0,213.0" fill="none" stroke="#6e7b82" stroke-width="0.6"/>
<path d="M370.0,193.0 L374.0,195.0" fill="none" stroke="#6e7b82" stroke-width="0.6"/>
<path d="M375.0,190.0 L377.0,195.0 L377.0,201.0" fill="none" stroke="#6e7b82" stroke-width="0.6"/>
<path d="M391.0,189.0 L392.0,194.0 L392.0,198.0" fill="none" stroke="#6e7b82" stroke-width="0.6"/>
<path d="M379.0,204.0 L385.0,204.0 L389.0,203.0" fill="none" stroke="#6e7b82" stroke-width="0.6"/>
<path d="M376.0,207.0 L384.0,209.0" fill="none" stroke="#6e7b82" stroke-width="0.6"/>
<path d="M384.0,206.0 L390.0,207.0 L396.0,207.0" fill="none" stroke="#6e7b82" stroke-width="0.6"/>
<path d="M396.0,203.0 L397.0,207.0" fill="none" stroke="#6e7b82" stroke-width="0.6"/>
<path d="M398.0,209.0 L408.0,209.0 L407.0,204.0" fill="none" stroke="#6e7b82" stroke-width="0.6"/>
<path d="M410.0,214.0 L422.0,214.0" fill="none" stroke="#6e7b82" stroke-width="0.6"/>
<path d="M410.0,214.0 L411.0,221.0" fill="none" stroke="#6e7b82" stroke-width="0.6"/>
<path d="M411.0,221.0 L420.0,220.0" fill="none" stroke="#6e7b82" stroke-width="0.6"/>
<path d="M460.5,283.8 L474.3,281.3 L481.8,280.0" fill="none" stroke="#6e7b82" stroke-width="0.6"/>
<path d="M458.8,227.5 L462.0,237.0 L466.0,245.0 L472.0,251.0" fill="none" stroke="#6e7b82" stroke-width="0.6"/>
<path d="M585.0,267.0 L591.0,271.0 L600.0,268.0 L605.0,273.0" fill="none" stroke="#6e7b82" stroke-width="0.6"/>
<path d="M637.8,217.8 L636.0,212.0 L636.3,202.5 L630.0,203.8 L618.8,198.8 L610.0,191.3 L600.0,190.0 L598.5,191.3" fill="none" stroke="#6e7b82" stroke-width="0.6"/>
<path d="M530.0,236.0 L536.0,244.0 L544.0,250.0 L556.0,254.0 L563.0,257.0 L568.0,256.0 L572.0,260.0 L577.0,258.0 L580.0,264.0 L585.0,267.0" fill="none" stroke="#6e7b82" stroke-width="0.6"/>
<path d="M572.0,260.0 L574.0,270.0 L578.0,276.0 L583.0,283.0 L588.0,289.0 L590.0,295.0" fill="none" stroke="#6e7b82" stroke-width="0.6"/>
<path d="M578.0,276.0 L585.0,278.0 L590.0,275.0" fill="none" stroke="#6e7b82" stroke-width="0.6"/>
<path d="M582.0,314.5 L590.0,315.5 L599.0,324.0 L606.0,333.0 L608.0,340.0 L607.0,344.5 L602.0,342.0 L596.0,334.0 L588.0,324.0 Z" fill="#92c5de" stroke="#7f8c92" stroke-width="0.5"/>
<path d="M605.5,345.0 L615.5,346.3 L628.0,350.0 L625.5,351.9 L614.3,350.0 L606.8,347.5 Z" fill="#92c5de" stroke="#7f8c92" stroke-width="0.5"/>
<path d="M630.5,351.0 L636.0,350.0 L636.0,352.5 L631.0,352.5 Z" fill="#92c5de" stroke="#7f8c92" stroke-width="0.5"/>
<path d="M638.0,351.0 L645.0,350.0 L644.0,352.5 L639.0,353.0 Z" fill="#92c5de" stroke="#7f8c92" stroke-width="0.5"/>
<path d="M647.0,353.0 L652.0,351.0 L653.0,352.5 L648.0,355.0 Z" fill="#92c5de" stroke="#7f8c92" stroke-width="0.5"/>
<path d="M653.0,351.0 L656.0,350.0 L655.0,351.5 L652.5,352.5 Z" fill="url(#h)" stroke="#c2c2c2" stroke-width="0.6"/>
<path d="M614.3,325.0 L618.0,326.3 L630.5,317.5 L633.0,318.8 L636.8,326.3 L630.5,337.5 L628.0,339.4 L618.0,336.3 L615.5,331.3 Z" fill="#92c5de" stroke="#7f8c92" stroke-width="0.5"/>
<path d="M616.8,325.0 L622.0,321.0 L628.0,315.0 L633.0,311.3 L636.8,315.0 L631.8,318.8 L630.5,317.5 L618.0,326.3 Z" fill="url(#h)" stroke="#c2c2c2" stroke-width="0.6"/>
<path d="M638.0,328.8 L641.8,326.3 L651.8,325.0 L648.0,328.1 L643.0,328.8 L645.5,331.3 L646.8,342.5 L643.5,336.0 L640.5,342.5 L638.0,336.3 Z" fill="#92c5de" stroke="#7f8c92" stroke-width="0.5"/>
<path d="M657.0,324.0 L659.0,325.5 L659.0,330.0 L657.5,331.0 Z" fill="#92c5de" stroke="#7f8c92" stroke-width="0.5"/>
<path d="M653.5,337.5 L660.0,336.5 L664.0,339.0 L657.0,338.5 Z" fill="#92c5de" stroke="#7f8c92" stroke-width="0.5"/>
<path d="M661.0,344.0 L662.5,345.0 L661.5,347.0 Z" fill="#92c5de" stroke="#7f8c92" stroke-width="0.5"/>
<path d="M664.5,331.0 L669.0,330.0 L672.0,332.0 L669.0,334.5 L666.0,333.5 Z" fill="#92c5de" stroke="#7f8c92" stroke-width="0.5"/>
<path d="M670.0,334.0 L674.0,333.0 L678.0,334.0 L684.0,333.5 L688.0,336.0 L688.0,352.0 L685.0,351.0 L682.0,345.0 L678.0,341.0 L672.0,338.0 Z" fill="#92c5de" stroke="#7f8c92" stroke-width="0.5"/>
<path d="M688.0,336.0 L694.0,339.0 L699.0,344.0 L702.0,349.0 L709.0,356.0 L702.0,355.0 L696.0,353.0 L690.0,352.0 L688.0,352.0 Z" fill="url(#h)" stroke="#c2c2c2" stroke-width="0.6"/>
<path d="M709.0,336.0 L713.0,338.0 L711.0,341.0 L707.0,340.0 Z" fill="url(#h)" stroke="#c2c2c2" stroke-width="0.6"/>
<path d="M718.0,342.0 L722.0,344.0 L727.0,347.0 L726.0,348.0 L720.0,345.0 Z" fill="url(#h)" stroke="#c2c2c2" stroke-width="0.6"/>
<path d="M735.0,357.0 L739.0,360.0 L736.5,361.0 Z" fill="url(#h)" stroke="#c2c2c2" stroke-width="0.6"/>
<path d="M734.0,381.0 L737.0,384.0 L736.0,385.0 Z" fill="url(#h)" stroke="#c2c2c2" stroke-width="0.6"/>
<path d="M752.0,299.0 L754.0,301.0 L752.5,302.0 Z" fill="url(#h)" stroke="#c2c2c2" stroke-width="0.6"/>
<path d="M636.0,281.0 L639.0,280.0 L642.0,284.0 L641.0,289.0 L645.0,293.0 L649.0,297.0 L647.0,298.0 L641.0,295.0 L638.0,290.0 L636.0,285.0 Z" fill="url(#h)" stroke="#c2c2c2" stroke-width="0.6"/>
<path d="M642.0,297.0 L649.0,302.0 L654.0,305.0 L654.0,312.0 L649.0,311.0 L645.0,308.0 L643.0,303.0 Z" fill="url(#h)" stroke="#c2c2c2" stroke-width="0.6"/>
<path d="M632.0,307.0 L637.0,300.0 L637.5,301.0 L633.0,308.0 Z" fill="url(#h)" stroke="#c2c2c2" stroke-width="0.6"/>
<path d="M614.0,418.0 L617.0,398.0 L620.0,387.0 L626.0,383.0 L638.0,378.0 L644.0,372.0 L650.0,367.0 L660.0,362.0 L666.0,358.0 L674.0,360.0 L677.0,362.0 L673.0,369.0 L682.0,375.0 L686.0,370.0 L689.0,358.0 L691.0,358.0 L695.0,372.0 L700.0,382.0 L705.0,394.0 L705.0,402.0 L700.0,412.0 L688.0,424.0 L676.0,430.0 L666.0,428.0 L664.0,418.0 L660.0,416.0 L654.0,412.0 L648.0,411.0 L636.0,414.0 L626.0,418.0 L618.0,420.0 Z" fill="#92c5de" stroke="#7f8c92" stroke-width="0.5"/>
<path d="M668.0,436.0 L677.0,435.5 L674.0,440.0 L668.0,443.0 Z" fill="#92c5de" stroke="#7f8c92" stroke-width="0.5"/>
<path d="M740.0,419.0 L742.0,426.0 L746.0,427.0 L738.0,433.0 L734.0,437.0 L733.0,434.0 L737.0,428.0 Z" fill="#92c5de" stroke="#7f8c92" stroke-width="0.5"/>
<path d="M730.0,436.0 L720.0,442.0 L710.0,448.0 L706.0,450.0 L708.0,447.0 L714.0,443.0 L724.0,438.0 Z" fill="#92c5de" stroke="#7f8c92" stroke-width="0.5"/>
<path d="M727.0,363.0 L730.0,365.0 L729.0,366.0 L726.0,364.0 Z" fill="url(#h)" stroke="#c2c2c2" stroke-width="0.6"/>
</g>
<!-- legend -->
<g>
<rect x="333" y="537" width="47" height="11" fill="url(#hl)" stroke="#c8c8c8" stroke-width="0.8"/>
<line x1="356.5" y1="533" x2="356.5" y2="537" stroke="#b5b5b5" stroke-width="0.8"/>
<rect x="400" y="537" width="58.5" height="11" fill="#f4a582" stroke="#999" stroke-width="0.6"/>
<rect x="458.5" y="537" width="58.5" height="11" fill="#92c5de" stroke="#999" stroke-width="0.6"/>
<line x1="429" y1="533" x2="429" y2="537" stroke="#b5b5b5" stroke-width="0.8"/>
<line x1="488" y1="533" x2="488" y2="537" stroke="#b5b5b5" stroke-width="0.8"/>
</g>
</svg>
<div class="lg" style="left:333px;top:517px">No data</div>
<div class="lg" style="left:420.5px;top:517px">No</div>
<div class="lg" style="left:476.5px;top:517px">Yes</div>
<div id="foot1" class="t"><b>Data source:</b> Thomas Brambor et al. (2019)</div>
<div id="foot2" class="t">OurWorldinData.org/state-capacity | CC BY</div>
</body></html>
